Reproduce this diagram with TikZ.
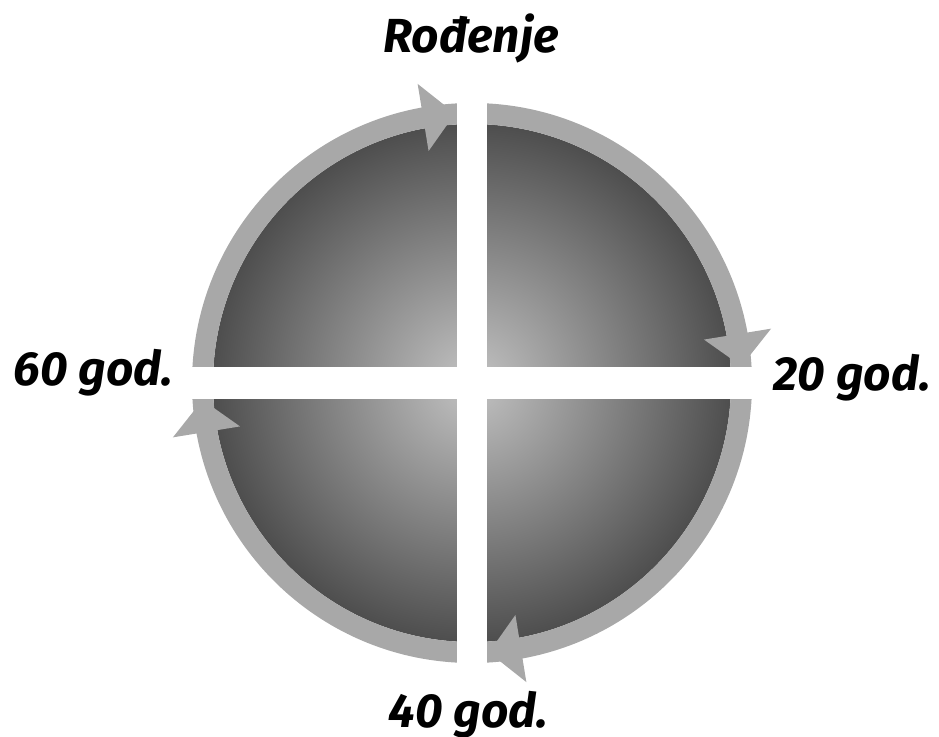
\documentclass[tikz,border=0pt]{standalone}
\usepackage{fontspec}
\setmainfont{Fira Sans}
\usepackage{tikz}
\definecolor{ringgray}{RGB}{168,168,168}
\definecolor{discin}{RGB}{195,195,195}
\definecolor{discout}{RGB}{78,78,78}

\begin{document}
\begin{tikzpicture}[line cap=round,
  age/.style={font=\fontsize{13.6}{16}\selectfont\bfseries\itshape,inner sep=0pt}]
\useasboundingbox (-4.72,-3.53) rectangle (4.67,3.83);
\shade[inner color=discin,outer color=discout] (0,0) circle (2.59);
\draw[ringgray,line width=0.21cm] (0,0) circle (2.695);
\fill[white] (-0.15,-3.2) rectangle (0.15,3.2);
\fill[white] (-3.2,-0.16) rectangle (3.2,0.16);
\foreach \a in {90,0,-90,180}
  \fill[ringgray] (\a+3.6:2.70) -- (\a+10.3:3.04) -- (\a+10.6:2.36) -- cycle;
\node[age,anchor=base] (birth) at (-0.01,3.30) {Rođenje};
\node[age,anchor=base west] (y20) at (3.01,-0.07) {20 god.};
\node[age,anchor=base west] (y40) at (-0.84,-3.44) {40 god.};
\node[age,anchor=base west] (y60) at (-4.59,-0.02) {60 god.};
\end{tikzpicture}
\end{document}
